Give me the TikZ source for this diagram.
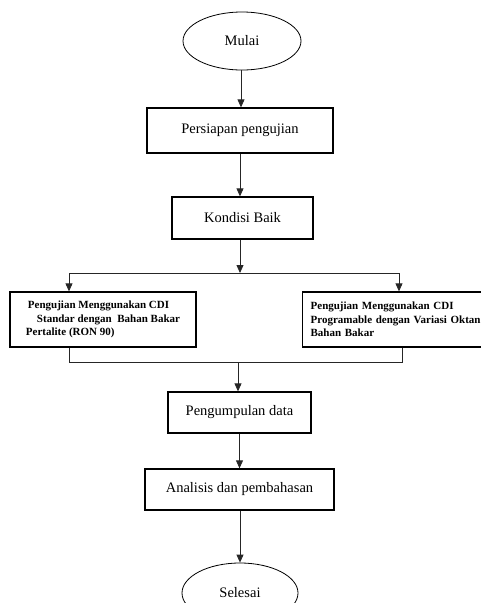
\documentclass[tikz,border=0pt]{standalone}
\usepackage{fontspec}
\setmainfont{Liberation Serif}
\usetikzlibrary{arrows.meta,shapes.geometric}
\begin{document}
\begin{tikzpicture}[x=1pt,y=-1pt,
  term/.style={ellipse,draw,line width=0.8pt,inner sep=0pt,font=\fontsize{14.5}{17}\selectfont},
  procbox/.style={rectangle,draw,line width=1.3pt,inner sep=0pt,font=\fontsize{14.5}{17}\selectfont},
  testbox/.style={rectangle,draw,line width=1.3pt,inner ysep=0pt,font=\fontsize{11}{13.5}\selectfont\bfseries},
  conn/.style={line width=0.8pt,draw=black!85},
  arr/.style={conn,-{Triangle[length=8pt,width=7pt]}}]
\useasboundingbox (0,0) rectangle (480,603);
\node[term,minimum width=118pt,minimum height=58pt] (mulai) at (242,41) {Mulai};
\node[procbox,minimum width=186pt,minimum height=45pt] (persiapan) at (240,130.5) {Persiapan pengujian};
\node[procbox,minimum width=141pt,minimum height=42pt] (kondisi) at (242.5,218) {Kondisi Baik};
\node[testbox,minimum width=186pt,minimum height=55pt,align=left] (lbox) at (103,319.5)
  {\hspace*{2pt}Pengujian Menggunakan CDI\\\hspace*{11pt}Standar dengan\ \ Bahan Bakar\\Pertalite (RON 90)};
\node[testbox,anchor=west,minimum height=55pt,text width=180pt,inner xsep=8pt,align=left] (rbox) at (302,319.5)
  {Pengujian Menggunakan CDI\\Programable dengan Variasi Oktan\\Bahan Bakar};
\node[procbox,minimum width=143pt,minimum height=41pt] (kumpul) at (239.5,412.5) {Pengumpulan data};
\node[procbox,minimum width=189pt,minimum height=41pt] (analisis) at (239.5,489.5) {Analisis dan pembahasan};
\node[term,minimum width=116pt,minimum height=60pt] (selesai) at (240,593) {Selesai};
\coordinate (j1) at (240,273);
\coordinate (lt) at (69,273);
\coordinate (rt) at (399,273);
\coordinate (lb) at (69,362);
\coordinate (rb) at (402,362);
\coordinate (j2) at (238,362);
\draw[arr] (mulai.south -| persiapan.north) ++(1,0) -- ([xshift=1pt]persiapan.north);
\draw[arr] (persiapan.south) -- (persiapan.south |- kondisi.north);
\draw[arr] (kondisi.south -| j1) -- (j1);
\draw[conn] (lt) -- (rt);
\draw[arr] (lt) -- (lt |- lbox.north);
\draw[arr] (rt) -- (rt |- rbox.north);
\draw[conn] (lbox.south -| lb) -- (lb) -- (rb) -- (rbox.south -| rb);
\draw[arr] (j2) -- (j2 |- kumpul.north);
\draw[arr] (kumpul.south) -- (analisis.north);
\draw[arr] (analisis.south -| selesai.north) -- (selesai.north);
\end{tikzpicture}
\end{document}
